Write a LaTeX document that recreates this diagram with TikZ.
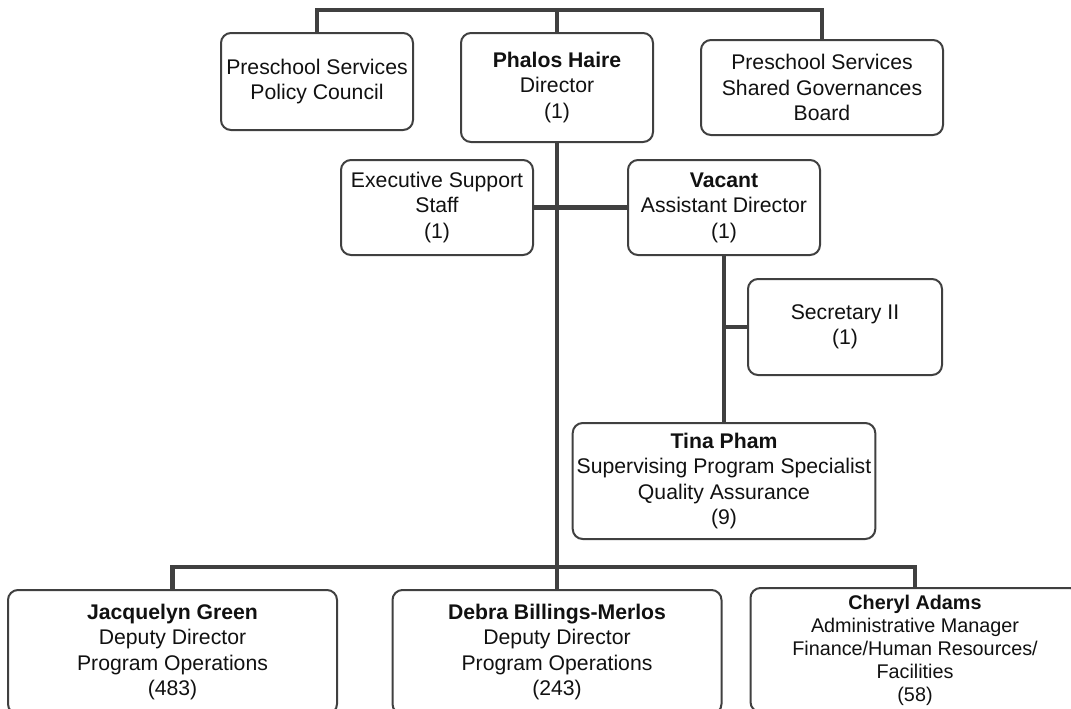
\documentclass[tikz,border=0pt]{standalone}
\usepackage{fontspec}
\setmainfont{Liberation Sans}
\usepackage{xcolor}
\usepackage{tikz}
\usetikzlibrary{positioning}
\definecolor{linegray}{HTML}{404040}
\definecolor{ink}{HTML}{111111}
\tikzset{
  org chart/.style={
    x=0.5pt,
    y=-0.5pt,
    line join=miter
  },
  posbox/.style={
    draw=linegray,
    line width=1pt,
    rounded corners=5pt,
    fill=white,
    text=ink,
    align=center,
    inner sep=2pt,
    font=\fontsize{10.6}{12.7}\selectfont
  },
  smallbox/.style={
    posbox,
    minimum width=96pt,
    minimum height=47.5pt
  },
  deputybox/.style={
    posbox,
    minimum width=164.5pt,
    minimum height=62pt
  },
  link/.style={
    draw=linegray,
    line width=2.4pt
  }
}

\begin{document}
\begin{tikzpicture}[org chart]
\useasboundingbox (0,0) rectangle (1071,708);
\clip (0,0) rectangle (1071,708);

% top row
\node[smallbox, minimum height=48.5pt] (council) at (317,81.5) {Preschool Services\\Policy Council};
\node[smallbox, minimum height=54.5pt] (director) at (557,87.5) {\textbf{Phalos Haire}\\Director\\(1)};
\node[smallbox, minimum width=121pt] (board) at (822,87.5) {Preschool Services\\Shared Governances\\Board};

% staff under the director
\node[smallbox] (exec) at (437,207.5) {Executive Support\\Staff\\(1)};
\node[smallbox] (assist) at (724,207.5) {\textbf{Vacant}\\Assistant Director\\(1)};
\node[smallbox, minimum width=97pt, minimum height=48pt] (secretary) at (845,327) {Secretary II\\(1)};
\node[posbox, minimum width=143.5pt, minimum height=58pt] (quality) at (724,481) {\textbf{Tina Pham}\\Supervising Program Specialist\\Quality Assurance\\(9)};

% deputies
\node[deputybox] (green) at (172.5,652) {\textbf{Jacquelyn Green}\\Deputy Director\\Program Operations\\(483)};
\node[deputybox] (merlos) at (557,652) {\textbf{Debra Billings-Merlos}\\Deputy Director\\Program Operations\\(243)};
\node[deputybox, font=\fontsize{9.9}{11.5}\selectfont] (adams) at (915,650) {\textbf{Cheryl Adams}\\Administrative Manager\\Finance/Human Resources/\\Facilities\\(58)};

\coordinate (topbus) at (0,10);
\coordinate (lowbus) at (0,567);

\draw[link] (council.north) -- (council.north |- topbus) -- (board.north |- topbus) -- (board.north);
\draw[link] (director.north) -- (director.north |- topbus);
\draw[link] (director.south) -- (director.south |- lowbus);
\draw[link] (exec.east) -- (assist.west);
\draw[link] (assist.south) -- (quality.north);
\draw[link] (secretary.west) -- (secretary.west -| assist.south);
\draw[link] (green.north) -- (green.north |- lowbus) -- (adams.north |- lowbus) -- (adams.north);
\draw[link] (merlos.north) -- (merlos.north |- lowbus);
\end{tikzpicture}
\end{document}
